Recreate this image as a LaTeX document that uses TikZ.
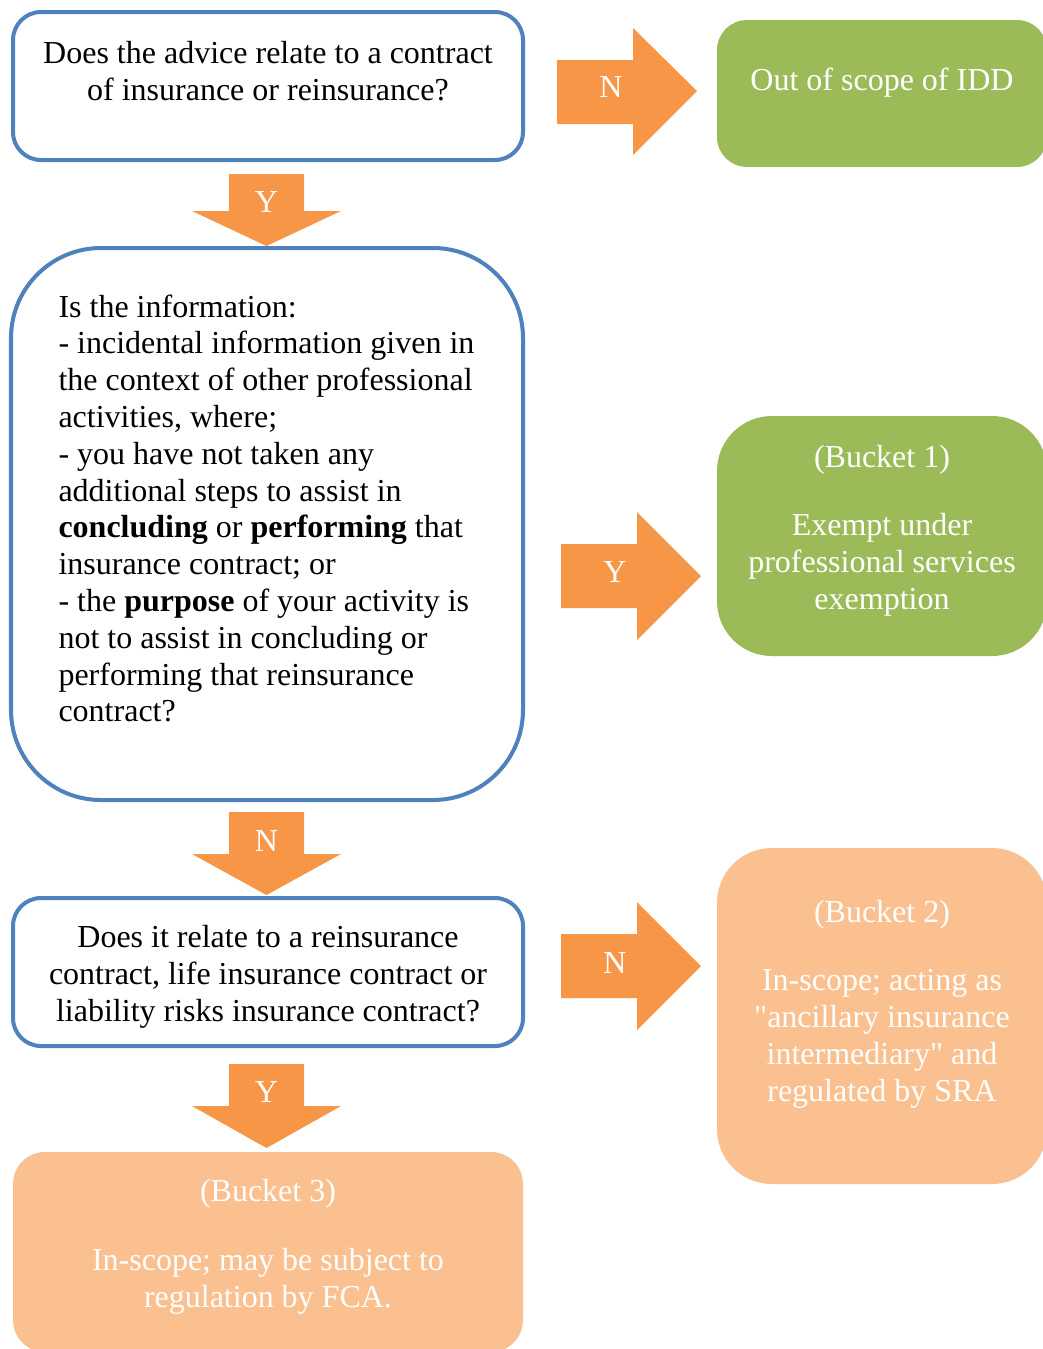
\documentclass[tikz,border=0pt]{standalone}
\usepackage{fontspec}
\setmainfont{Liberation Serif}
\usepackage{xcolor}
\usepackage{tikz}

\definecolor{boxblue}{HTML}{4F81BD}
\definecolor{arroworange}{HTML}{F79646}
\definecolor{scopegreen}{HTML}{9BBB59}
\definecolor{bucketorange}{HTML}{FAC090}

\begin{document}
\begin{tikzpicture}[x={(0.375pt,0pt)},y={(0pt,-0.375pt)},
    question/.style={draw=boxblue,line width=1.5pt,fill=white,inner sep=0pt},
    bucket/.style={fill=#1,inner sep=0pt},
    boxtext/.style={align=center,inner sep=0pt,font=\fontsize{12}{13.8}\selectfont},
    blockarrow/.style={fill=arroworange},
    yn/.style={text=white,inner sep=0pt,font=\fontsize{12}{13.8}\selectfont}]
  \useasboundingbox (0,0) rectangle (1043,1349);
  \clip (0,0) rectangle (1043,1349);

  % left column: the three questions
  \node[question,rounded corners=10.5pt,minimum width=191.25pt,minimum height=55.5pt]
    (advice) at (268,86) {};
  \node[boxtext] (advice text) at (268,71.5)
    {Does the advice relate to a contract\\of insurance or reinsurance?};
  \node[question,rounded corners=33.75pt,minimum width=192pt,minimum height=207pt]
    (info) at (267,524) {};
  \node[boxtext,align=left,anchor=west] (info text) at (58,508.5)
    {Is the information:\\
     - incidental information given in\\
     the context of other professional\\
     activities, where;\\
     - you have not taken any\\
     additional steps to assist in\\
     \textbf{concluding} or \textbf{performing} that\\
     insurance contract; or\\
     - the \textbf{purpose} of your activity is\\
     not to assist in concluding or\\
     performing that reinsurance\\
     contract?};
  \node[question,rounded corners=10.5pt,minimum width=191.25pt,minimum height=55.5pt]
    (kind) at (268,972) {};
  \node[boxtext] (kind text) at (268,977)
    {Does it relate to a reinsurance\\contract, life insurance contract or\\liability risks insurance contract?};

  % outcomes
  \node[bucket=scopegreen,rounded corners=11.25pt,minimum width=123.75pt,minimum height=55.1pt]
    (out) at (882,93.5) {};
  \node[boxtext,text=white] (out text) at (882,82.5) {Out of scope of IDD};
  \node[bucket=scopegreen,rounded corners=20.6pt,minimum width=123.75pt,minimum height=90pt]
    (bucketA) at (882,536) {};
  \node[boxtext,text=white] (bucketA text) at (882,530.5)
    {(Bucket 1)\\[12pt]Exempt under\\professional services\\exemption};
  \node[bucket=bucketorange,rounded corners=20.6pt,minimum width=123.75pt,minimum height=126pt]
    (bucketB) at (882,1016) {};
  \node[boxtext,text=white] (bucketB text) at (882,1004)
    {(Bucket 2)\\[12pt]In-scope; acting as\\\textquotedbl ancillary insurance\\intermediary\textquotedbl{} and\\regulated by SRA};
  \node[bucket=bucketorange,rounded corners=12pt,minimum width=191.25pt,minimum height=75pt]
    (bucketC) at (268,1252) {};
  \node[boxtext,text=white] (bucketC text) at (268,1247)
    {(Bucket 3)\\[12pt]In-scope; may be subject to\\regulation by FCA.};

  % block arrows, downwards
  \fill[blockarrow] (229,174)--(304,174)--(304,211)--(341,211)--(266.5,246)--(192,211)--(229,211)--cycle;
  \node[yn] (y1) at (266.5,202) {Y};
  \fill[blockarrow] (229,812)--(304,812)--(304,854)--(341,854)--(266.5,895)--(192,854)--(229,854)--cycle;
  \node[yn] (n2) at (266.5,841) {N};
  \fill[blockarrow] (229,1064)--(304,1064)--(304,1106)--(341,1106)--(266.5,1148)--(192,1106)--(229,1106)--cycle;
  \node[yn] (y3) at (266.5,1092) {Y};

  % block arrows, to the right
  \fill[blockarrow] (557,60)--(633,60)--(633,28)--(697,91)--(633,155)--(633,124)--(557,124)--cycle;
  \node[yn] (n1) at (611,87.5) {N};
  \fill[blockarrow] (561,544)--(637,544)--(637,512)--(701,576)--(637,640)--(637,608)--(561,608)--cycle;
  \node[yn] (y2) at (615,572) {Y};
  \fill[blockarrow] (561,934)--(637,934)--(637,902)--(701,966)--(637,1030)--(637,998)--(561,998)--cycle;
  \node[yn] (n3) at (615,963) {N};
\end{tikzpicture}
\end{document}
